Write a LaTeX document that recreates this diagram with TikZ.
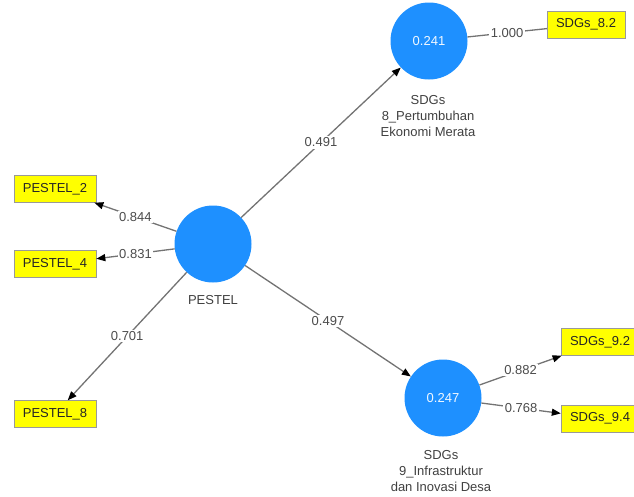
\documentclass[tikz,border=0pt]{standalone}
\usepackage{fontspec}
\setmainfont{Liberation Sans}
\usetikzlibrary{shapes,arrows.meta}
\definecolor{lvblue}{RGB}{30,144,255}
\definecolor{indyellow}{RGB}{255,255,0}
\tikzstyle{lv}=[circle,fill=lvblue,minimum size=77pt,inner sep=0pt,text=white!94!lvblue]
\tikzstyle{ind}=[rectangle,draw=black!40,fill=indyellow,minimum height=27pt,inner xsep=9pt,text=black!85]
\tikzstyle{lvname}=[align=center,text=black!75]
\tikzstyle{ld}=[draw=black!55,line width=1.3pt,-{Triangle[length=9pt,width=7pt,color=black]}]
\tikzstyle{coef}=[fill=white,inner sep=1.5pt,text=black!70,midway]

\begin{document}
\begin{tikzpicture}[x=1pt,y=-1pt,font=\fontsize{13}{16}\selectfont]
\useasboundingbox (0,0) rectangle (634,496);
\node[lv] (pestel) at (213,244) {};
\node[lv] (sdg8) at (429,41) {0.241};
\node[lv] (sdg9) at (443,398) {0.247};
\node[lvname] (pestelname) at (213,300) {PESTEL};
\node[lvname] (sdg8name) at (428,116) {SDGs\\8\_Pertumbuhan\\Ekonomi Merata};
\node[lvname] (sdg9name) at (441,471) {SDGs\\9\_Infrastruktur\\dan Inovasi Desa};
\node[ind] (p2) at (55,189) {PESTEL\_2};
\node[ind] (p4) at (55,264) {PESTEL\_4};
\node[ind] (p8) at (55,414) {PESTEL\_8};
\node[ind] (s82) at (586,24.5) {SDGs\_8.2};
\node[ind] (s92) at (600,342) {SDGs\_9.2};
\node[ind] (s94) at (600,418.5) {SDGs\_9.4};
\draw[ld] (pestel) -- node[coef] {0.844} (p2);
\draw[ld] (pestel) -- node[coef] {0.831} (p4);
\draw[ld] (pestel) -- node[coef] {0.701} (p8);
\draw[ld] (pestel) -- node[coef] {0.491} (sdg8);
\draw[ld] (pestel) -- node[coef] {0.497} (sdg9);
\draw[ld,-] (sdg8) -- node[coef] {1.000} (s82);
\draw[ld] (sdg9) -- node[coef] {0.882} (s92);
\draw[ld] (sdg9) -- node[coef] {0.768} (s94);
\end{tikzpicture}
\end{document}
